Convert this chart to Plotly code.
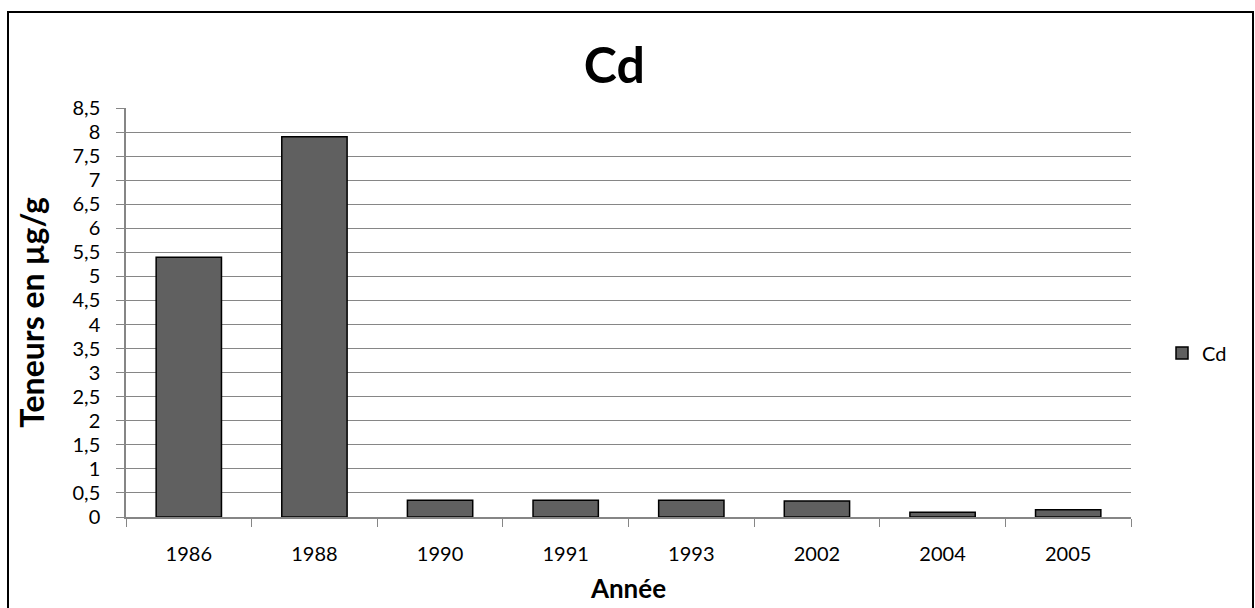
import plotly.graph_objects as go

years = ["1986", "1988", "1990", "1991", "1993", "2002", "2004", "2005"]
cd_values = [5.4, 7.9, 0.35, 0.35, 0.35, 0.33, 0.1, 0.15]
y_ticks = [0, 0.5, 1, 1.5, 2, 2.5, 3, 3.5, 4, 4.5, 5, 5.5, 6, 6.5, 7, 7.5, 8, 8.5]
y_tick_text = ["0", "0,5", "1", "1,5", "2", "2,5", "3", "3,5", "4", "4,5",
               "5", "5,5", "6", "6,5", "7", "7,5", "8", "8,5"]

W, H = 1255, 608
L, R, T, B = 126, 124, 108, 91
pw, ph = W - L - R, H - T - B

def px(x):
    return (x - L) / pw

def py(y):
    return (H - B - y) / ph

FONT = "Lato, Calibri, Carlito, sans-serif"

fig = go.Figure()
fig.add_trace(go.Bar(
    x=years, y=cd_values, name="Cd",
    marker=dict(color="#606060", line=dict(color="black", width=1.5)),
    showlegend=True,
))

fig.update_layout(
    width=W, height=H,
    margin=dict(l=L, r=R, t=T, b=B, autoexpand=False),
    paper_bgcolor="white", plot_bgcolor="white",
    font=dict(family=FONT, size=20, color="black"),
    bargap=0.48,
    title=dict(text="<b>Cd</b>", x=px(618), xanchor="center", y=1 - 65 / H, yanchor="middle",
               font=dict(size=50, family=FONT, color="black")),
    showlegend=True,
    legend=dict(x=px(1162), y=py(353), xanchor="left", yanchor="middle",
                font=dict(size=20, family=FONT), bgcolor="rgba(0,0,0,0)"),
    xaxis=dict(
        type="category", showline=True, linecolor="#868686", linewidth=1.5,
        ticks="outside", ticklen=8, tickcolor="#868686", tickson="boundaries",
        showgrid=False, ticklabelstandoff=18, automargin=False,
        tickfont=dict(size=20),
        title=dict(text="<b>Année</b>", font=dict(size=26, family=FONT), standoff=16),
    ),
    yaxis=dict(
        range=[0, 8.5], tickvals=y_ticks, ticktext=y_tick_text,
        showline=True, linecolor="#868686", linewidth=1.5,
        ticks="outside", ticklen=8, tickcolor="#868686",
        showgrid=True, gridcolor="#868686", gridwidth=1,
        zeroline=False, ticklabelstandoff=12, automargin=False,
        tickfont=dict(size=20),
        title=dict(text="<b>Teneurs en µg/g</b>", font=dict(size=32, family=FONT), standoff=18),
    ),
    shapes=[dict(type="rect", xref="paper", yref="paper",
                 x0=px(8), x1=px(1253), y0=py(612), y1=py(12),
                 line=dict(color="black", width=2), fillcolor="rgba(0,0,0,0)", layer="below")],
)

fig.write_html("out.html")
